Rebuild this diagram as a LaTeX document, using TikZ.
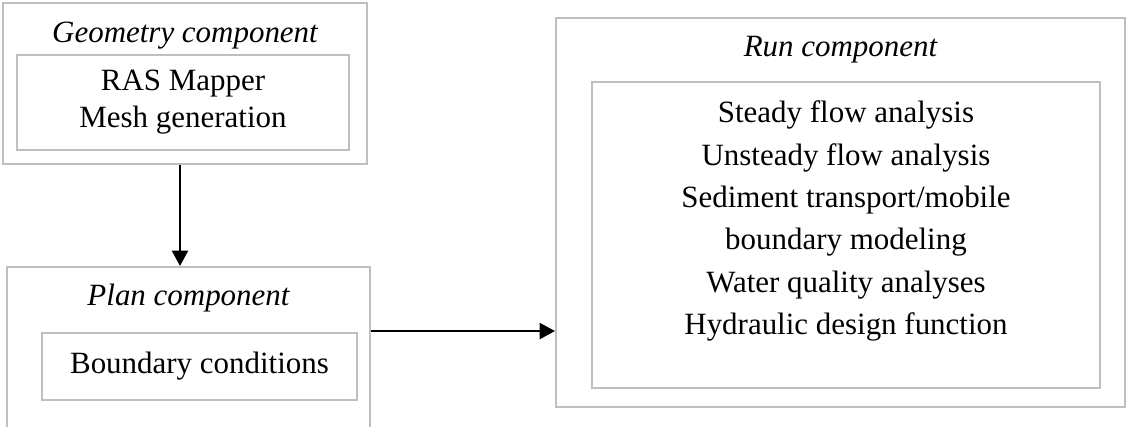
\documentclass[tikz,border=0pt]{standalone}
\usepackage{fontspec}
\setmainfont{Liberation Serif}
\usetikzlibrary{arrows.meta}
\definecolor{boxgray}{HTML}{BFBFBF}
\newcommand{\pxu}{0.01362cm}

\begin{document}
\begin{tikzpicture}[
    x=\pxu, y=-\pxu,
    every node/.style={font=\fontsize{12}{14.4}\selectfont},
    outer/.style={draw=boxgray, line width=0.75pt, inner sep=0pt},
    inbox/.style={draw=boxgray, line width=0.75pt, align=center, inner sep=0pt},
    title/.style={anchor=base, font=\fontsize{12}{14.4}\selectfont\itshape},
    flow/.style={->, line width=1pt},
    >={Triangle[length=6pt, width=6.2pt]},
  ]
  \useasboundingbox (0,0) rectangle (1126,426);
  \clip (0,0) rectangle (1126,426);

  \node[outer, minimum width=364*\pxu, minimum height=161*\pxu] (geo) at (185,83.5) {};
  \node[title] (geotitle) at (185,43) {Geometry component};
  \node[inbox, minimum width=332*\pxu, minimum height=95*\pxu,
        font=\fontsize{12}{14.3}\selectfont] (geoin) at (183,102.5)
    {RAS Mapper\\Mesh generation};

  \node[outer, minimum width=363*\pxu, minimum height=180*\pxu] (plan) at (188.5,357) {};
  \node[title] (plantitle) at (188.5,305) {Plan component};
  \node[inbox, minimum width=315*\pxu, minimum height=67*\pxu] (planin) at (199.5,366.5)
    {Boundary conditions};

  \node[outer, minimum width=569*\pxu, minimum height=389*\pxu] (run) at (840.5,212.5) {};
  \node[title] (runtitle) at (840.5,57) {Run component};
  \node[inbox, minimum width=508*\pxu, minimum height=306*\pxu] (runin) at (846,235) {};
  \node[align=center, font=\fontsize{12}{16.4}\selectfont] (runlist) at (846,221)
    {Steady flow analysis\\Unsteady flow analysis\\Sediment transport/mobile\\
     boundary modeling\\Water quality analyses\\Hydraulic design function};

  \draw[flow] ([xshift=-5*\pxu]geo.south) -- ([xshift=-5*\pxu]geo.south |- plan.north);
  \draw[flow] ([yshift=-65*\pxu]plan.north east) -- ([yshift=-65*\pxu]plan.north east -| run.west);
\end{tikzpicture}
\end{document}
